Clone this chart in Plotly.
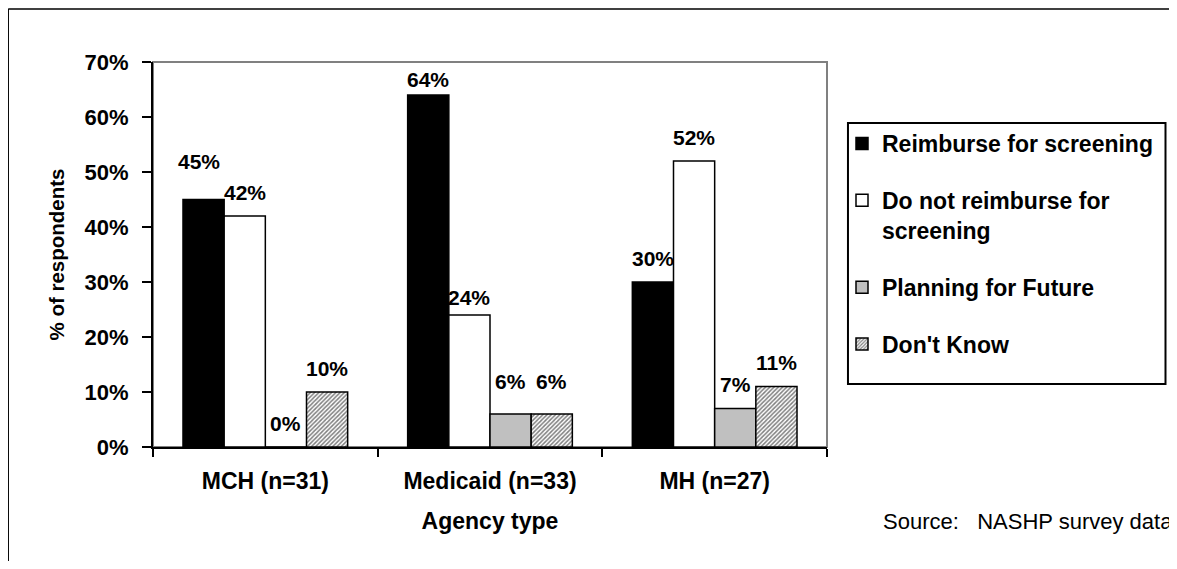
import plotly.graph_objects as go

# Survey shares (percent of respondents) by agency type
categories = ["MCH (n=31)", "Medicaid (n=33)", "MH (n=27)"]
reimburse = [45, 64, 30]
not_reimburse = [42, 24, 52]
planning = [0, 6, 7]
dont_know = [10, 6, 11]

series_names = ["Reimburse for screening", "Do not reimburse for<br>screening",
                "Planning for Future", "Don't Know"]
series_values = [reimburse, not_reimburse, planning, dont_know]

FONT = "Liberation Sans, Arial, sans-serif"
W, H = 1177, 569
OFF = 8  # page body margin
L, R, T, B = 153, 828, 62, 447  # plot area in page pixels

def px_x(x):
    return (x - L) / (R - L)

def px_y(y):
    return (B - y) / (B - T)

bar_styles = [
    dict(color="black", line=dict(color="black", width=1.5)),
    dict(color="white", line=dict(color="black", width=1.5)),
    dict(color="#C0C0C0", line=dict(color="black", width=1.5)),
    dict(color="white", line=dict(color="black", width=1.5),
         pattern=dict(shape="/", fgcolor="black", bgcolor="white", size=3, solidity=0.5)),
]

fig = go.Figure()
for i, (name, vals) in enumerate(zip(series_names, series_values)):
    fig.add_trace(go.Bar(
        x=categories, y=vals, name=name, marker=bar_styles[i],
        legendgroup=str(i),
    ))

bargap = 0.267
bar_w = (1 - bargap) / 4

# Data labels sit above the bars; a few were nudged by hand in the original
nudges = {(0, 0): (-5, 14), (1, 0): (0, -8), (1, 1): (0, -6), (1, 2): (0, 9), (1, 3): (0, 9)}
annotations = []
for s, vals in enumerate(series_values):
    for c, v in enumerate(vals):
        dx, dy = nudges.get((c, s), (0, 0))
        annotations.append(dict(
            x=c + (s - 1.5) * bar_w, y=v, xref="x", yref="y",
            text=f"{v}%", showarrow=False, yshift=24 + dy, xshift=dx,
            font=dict(size=21, color="black", family=FONT, weight="bold"),
        ))

annotations.append(dict(
    x=px_x(882), y=px_y(521), xref="paper", yref="paper", xanchor="left", yanchor="middle",
    text="Source:&nbsp;&nbsp;&nbsp;NASHP survey data", showarrow=False,
    font=dict(size=22, color="black", family=FONT, weight="normal"),
))

shapes = [
    # gray plot frame
    dict(type="rect", xref="paper", yref="paper", x0=0, x1=1, y0=0, y1=1,
         line=dict(color="#808080", width=2), layer="below"),
    # outer chart frame (top and left edges visible)
    dict(type="line", xref="paper", yref="paper", x0=px_x(8), x1=px_x(1200), y0=px_y(9), y1=px_y(9),
         line=dict(color="black", width=1.5)),
    dict(type="line", xref="paper", yref="paper", x0=px_x(8), x1=px_x(8), y0=px_y(9), y1=px_y(600),
         line=dict(color="black", width=1.5)),
    # legend box
    dict(type="rect", xref="paper", yref="paper", x0=px_x(849), x1=px_x(1167), y0=px_y(384), y1=px_y(123),
         line=dict(color="black", width=2)),
]

fig.update_layout(
    width=W - 2 * OFF, height=H - 2 * OFF,
    margin=dict(l=L - OFF, r=W - OFF - R, t=T - OFF, b=H - OFF - B, pad=0),
    paper_bgcolor="white", plot_bgcolor="white",
    font=dict(family=FONT, size=21, color="black", weight="bold"),
    barmode="group", bargap=bargap, bargroupgap=0,
    showlegend=True,
    legend=dict(
        x=px_x(842), y=px_y(122), xanchor="left", yanchor="top",
        font=dict(size=23, family=FONT, weight="bold"),
        tracegroupgap=24, traceorder="grouped", valign="top",
        bgcolor="rgba(0,0,0,0)", borderwidth=0,
    ),
    annotations=annotations,
    shapes=shapes,
    xaxis=dict(
        type="category", showline=True, linecolor="black", linewidth=2,
        ticks="outside", tickson="boundaries", ticklen=8, tickwidth=2, tickcolor="black",
        tickfont=dict(size=23), ticklabelstandoff=12,
        title=dict(text="Agency type", font=dict(size=23), standoff=20),
        showgrid=False, zeroline=False,
    ),
    yaxis=dict(
        range=[0, 70], dtick=10, ticksuffix="%",
        showline=True, linecolor="black", linewidth=2,
        ticks="outside", ticklen=9, tickwidth=2, tickcolor="black",
        tickfont=dict(size=22), ticklabelstandoff=9,
        title=dict(text="% of respondents", font=dict(size=20.5), standoff=14),
        showgrid=False, zeroline=False,
    ),
)

fig.write_html("out.html")
